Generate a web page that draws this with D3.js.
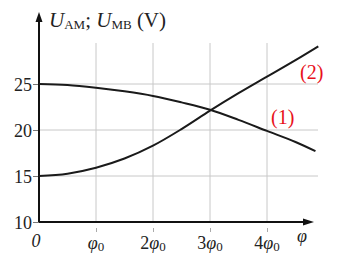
<!DOCTYPE html>
<html><head><meta charset="utf-8">
<script src="https://cdn.jsdelivr.net/npm/d3@7"></script>
<style>body{margin:0;background:#fff}svg{display:block}</style>
</head><body>
<script>
const phiSteps = [0, 0.5, 1, 1.5, 2, 2.5, 3, 3.5, 4, 4.5, 4.85];
const curve1 = [25, 24.9, 24.6, 24.2, 23.7, 23.0, 22.2, 21.1, 19.9, 18.7, 17.7];
const phiSteps2 = [0, 0.5, 1, 1.5, 2, 2.5, 3, 3.5, 4, 4.5, 4.9];
const curve2 = [15, 15.25, 15.9, 16.9, 18.3, 20.1, 22.1, 24.0, 25.8, 27.6, 29.1];
const yTicks = [10, 15, 20, 25];
const xTicks = [1, 2, 3, 4];
const xTickLabels = ["", "2", "3", "4"];

const W = 337, H = 264;
const svg = d3.select("body").append("svg").attr("width", W).attr("height", H);
const x = d3.scaleLinear().domain([0, 4]).range([39, 267]);
const y = d3.scaleLinear().domain([10, 25]).range([222, 84]);
const font = "Liberation Serif, DejaVu Serif, Times New Roman, serif";

// grid
svg.append("g").selectAll("line").data([15, 20, 25]).join("line")
  .attr("x1", x(0)).attr("x2", 318).attr("y1", d => y(d)).attr("y2", d => y(d))
  .attr("stroke", "#c8c8c8").attr("stroke-width", 1);
svg.append("g").selectAll("line").data(xTicks).join("line")
  .attr("x1", d => x(d)).attr("x2", d => x(d)).attr("y1", 43).attr("y2", y(10))
  .attr("stroke", "#c8c8c8").attr("stroke-width", 1);

// axes
const yAxis = d3.axisLeft(y).tickValues(yTicks).tickSize(6).tickFormat(d3.format("d"));
const gy = svg.append("g").attr("transform", `translate(${x(0)},0)`).call(yAxis);
gy.select(".domain").remove();
gy.selectAll("line").attr("stroke", "#777");
gy.selectAll("text").attr("font-family", font).attr("font-size", 18).attr("fill", "#222").attr("x", -7).attr("dy", "0.35em");

const xAxis = d3.axisBottom(x).tickValues(xTicks).tickSize(7).tickFormat("");
const gx = svg.append("g").attr("transform", `translate(0,${y(10)})`).call(xAxis);
gx.select(".domain").remove();
gx.selectAll("line").attr("stroke", "#aaa").attr("y1", 6).attr("y2", 10);

svg.append("line").attr("x1", x(0)).attr("x2", x(0)).attr("y1", y(10)).attr("y2", 18)
  .attr("stroke", "#111").attr("stroke-width", 2);
svg.append("path").attr("d", `M${x(0)},12 L${x(0)-3.5},22 L${x(0)+3.5},22 Z`).attr("fill", "#111");
svg.append("line").attr("x1", x(0)).attr("x2", 306).attr("y1", y(10)).attr("y2", y(10))
  .attr("stroke", "#111").attr("stroke-width", 2);
svg.append("path").attr("d", `M314,${y(10)} L303,${y(10)-3.5} L303,${y(10)+3.5} Z`).attr("fill", "#111");

// x tick labels
svg.append("text").attr("x", x(0) - 3).attr("y", 247).attr("text-anchor", "middle")
  .attr("font-family", font).attr("font-style", "italic").attr("font-size", 18).attr("fill", "#222").text("0");
xTicks.forEach((t, i) => {
  const tx = svg.append("text").attr("x", x(t)).attr("y", 249).attr("text-anchor", "middle")
    .attr("font-family", font).attr("font-size", 18).attr("fill", "#222");
  tx.append("tspan").text(xTickLabels[i]);
  tx.append("tspan").attr("font-style", "italic").text("φ");
  tx.append("tspan").attr("font-size", 13).attr("dy", 2).text("0");
});
svg.append("text").attr("x", 302).attr("y", 242).attr("text-anchor", "middle")
  .attr("font-family", font).attr("font-style", "italic").attr("font-size", 18).attr("fill", "#222").text("φ");

// title
const title = svg.append("text").attr("x", 49).attr("y", 27).attr("font-family", font).attr("font-size", 21).attr("fill", "#222");
title.append("tspan").attr("font-style", "italic").text("U");
title.append("tspan").attr("font-size", 13).attr("dy", 2).text("AM");
title.append("tspan").attr("dy", -2).text("; ");
title.append("tspan").attr("font-style", "italic").text("U");
title.append("tspan").attr("font-size", 13).attr("dy", 2).text("MB");
title.append("tspan").attr("dy", -2).text(" (V)");

// curves
const line = d3.line().x(d => x(d[0])).y(d => y(d[1])).curve(d3.curveCatmullRom);
svg.append("path").datum(phiSteps.map((p, i) => [p, curve1[i]])).attr("d", line)
  .attr("fill", "none").attr("stroke", "#1a1a1a").attr("stroke-width", 2);
svg.append("path").datum(phiSteps2.map((p, i) => [p, curve2[i]])).attr("d", line)
  .attr("fill", "none").attr("stroke", "#1a1a1a").attr("stroke-width", 2);

// labels
svg.append("text").attr("x", 300).attr("y", 79).attr("font-family", font).attr("font-size", 20).attr("fill", "#e8101a").text("(2)");
svg.append("text").attr("x", 271).attr("y", 124).attr("font-family", font).attr("font-size", 20).attr("fill", "#e8101a").text("(1)");
</script>
</body></html>
